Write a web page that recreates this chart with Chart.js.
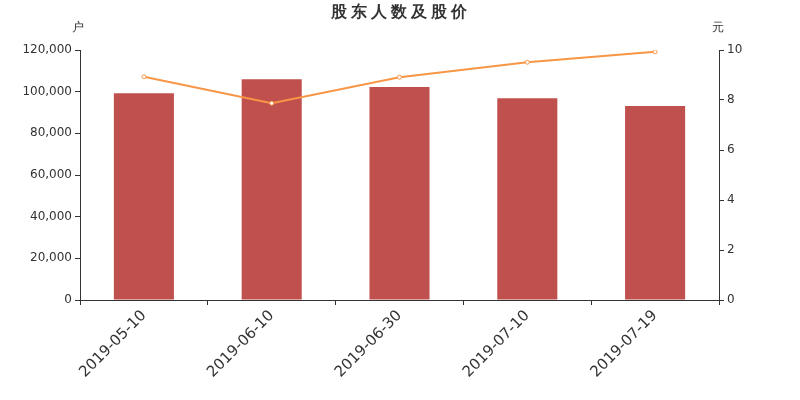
<!DOCTYPE html>
<html>
<head>
<meta charset="utf-8">
<script src="https://cdn.jsdelivr.net/npm/chart.js@4/dist/chart.umd.min.js"></script>
<style>
  html, body { margin: 0; padding: 0; background: #fff; }
  #wrap { width: 800px; height: 400px; }
</style>
</head>
<body>
<div id="wrap"><canvas id="c" width="800" height="400"></canvas></div>
<script>
const dates = ['2019-05-10', '2019-06-10', '2019-06-30', '2019-07-10', '2019-07-19'];
const holders = [99300, 106000, 102200, 96900, 93100];
const prices = [8.93, 7.87, 8.91, 9.51, 9.93];
const holderTicks = [0, 20000, 40000, 60000, 80000, 100000, 120000];
const priceTicks = [0, 2, 4, 6, 8, 10];

const fontFamily = '"DejaVu Sans", sans-serif';
const axisColor = '#333';

// title and the two unit labels above the y axes
const extraText = {
    id: 'extraText',
    afterDraw(chart) {
        const ctx = chart.ctx;
        const y = chart.scales.y;
        const y1 = chart.scales.y1;
        ctx.save();
        ctx.fillStyle = '#333';
        ctx.textAlign = 'center';
        ctx.textBaseline = 'middle';
        ctx.font = 'bold 16px ' + fontFamily;
        ctx.letterSpacing = '4px';
        ctx.fillText('股东人数及股价', 401, 13);
        ctx.letterSpacing = '0px';
        ctx.font = '12px ' + fontFamily;
        ctx.fillText('户', y.right - 2, 28);
        ctx.fillText('元', y1.left - 1, 28);
        ctx.restore();
    }
};

new Chart(document.getElementById('c').getContext('2d'), {
    data: {
        labels: dates,
        datasets: [{
            type: 'line',
            data: prices,
            yAxisID: 'y1',
            borderColor: '#f79646',
            borderWidth: 2,
            pointRadius: 2,
            pointBackgroundColor: '#fff',
            pointBorderColor: '#f79646',
            pointBorderWidth: 1,
            tension: 0,
            order: 0
        }, {
            type: 'bar',
            data: holders,
            yAxisID: 'y',
            backgroundColor: '#c0504d',
            barPercentage: 0.47,
            categoryPercentage: 1,
            order: 1
        }]
    },
    options: {
        responsive: false,
        animation: false,
        layout: { padding: { top: 50, left: 0, right: 0, bottom: 0 } },
        plugins: {
            legend: { display: false },
            tooltip: { enabled: false }
        },
        scales: {
            x: {
                offset: true,
                afterFit(scale) { scale.height = 100; },
                border: { color: axisColor, width: 1 },
                grid: { drawOnChartArea: false, drawTicks: true, tickLength: 5, color: axisColor, offset: true },
                ticks: {
                    color: '#333',
                    font: { family: fontFamily, size: 15 },
                    minRotation: 45,
                    maxRotation: 45,
                    padding: 2
                }
            },
            y: {
                position: 'left',
                min: 0,
                max: 120000,
                afterFit(scale) { scale.width = 80; },
                afterBuildTicks(scale) { scale.ticks = holderTicks.map(v => ({ value: v })); },
                border: { color: axisColor, width: 1 },
                grid: { drawOnChartArea: false, drawTicks: true, tickLength: 5, color: axisColor },
                ticks: {
                    color: '#333',
                    font: { family: fontFamily, size: 12 },
                    padding: 3,
                    callback: v => v.toLocaleString('en-US')
                }
            },
            y1: {
                position: 'right',
                min: 0,
                max: 10,
                afterFit(scale) { scale.width = 81; },
                afterBuildTicks(scale) { scale.ticks = priceTicks.map(v => ({ value: v })); },
                border: { color: axisColor, width: 1 },
                grid: { drawOnChartArea: false, drawTicks: true, tickLength: 5, color: axisColor },
                ticks: {
                    color: '#333',
                    font: { family: fontFamily, size: 12 },
                    padding: 3
                }
            }
        }
    },
    plugins: [extraText]
});
</script>
</body>
</html>
